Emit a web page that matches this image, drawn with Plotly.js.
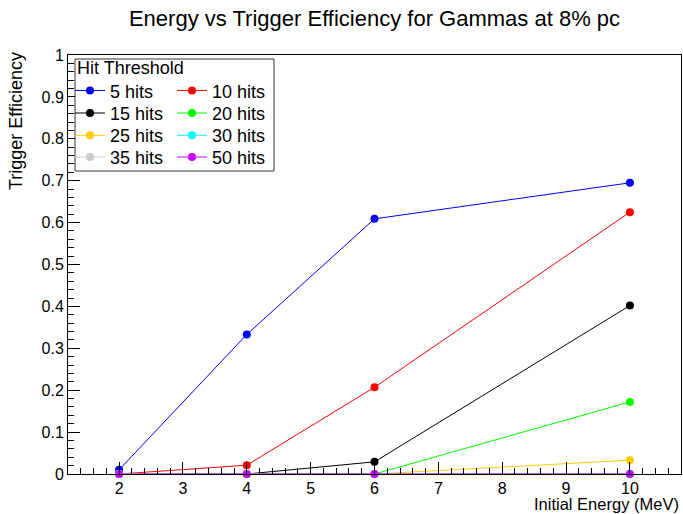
<!DOCTYPE html>
<html>
<head>
<meta charset="utf-8">
<script src="https://cdn.plot.ly/plotly-3.0.1.min.js"></script>
<style>html,body{margin:0;padding:0;background:#fff;}#chart{width:683px;height:514px;}</style>
</head>
<body>
<div id="chart"></div>
<script>
// Data
var energies = [2, 4, 6, 10];
var seriesNames = ["5 hits", "10 hits", "15 hits", "20 hits", "25 hits", "30 hits", "35 hits", "50 hits"];
var hits5  = [0.01, 0.333, 0.609, 0.695];
var hits10 = [0.0, 0.021, 0.207, 0.625];
var hits15 = [0.0, 0.0, 0.029, 0.402];
var hits20 = [0.0, 0.0, 0.0, 0.172];
var hits25 = [0.0, 0.0, 0.0, 0.033];
var hits30 = [0.0, 0.0, 0.0, 0.0];
var hits35 = [0.0, 0.0, 0.0, 0.0];
var hits50 = [0.0, 0.0, 0.0, 0.0];
var seriesValues = [hits5, hits10, hits15, hits20, hits25, hits30, hits35, hits50];
var xTickValues = [2, 3, 4, 5, 6, 7, 8, 9, 10];

var colors = ["#0000ff", "#ff0000", "#000000", "#00ff00", "#ffcc00", "#00ffff", "#cccccc", "#cc00ff"];
var legendIds = ["legend", "legend", "legend2", "legend2", "legend3", "legend3", "legend4", "legend4"];

var traces = seriesNames.map(function (name, i) {
  return {
    x: energies,
    y: seriesValues[i],
    name: name,
    type: "scatter",
    mode: "lines+markers",
    line: {color: colors[i], width: 1},
    marker: {color: colors[i], size: 8},
    legend: legendIds[i],
    cliponaxis: false
  };
});

var PL = 68, PR = 681, PT = 55, PB = 474;
function px2x(p) { return (p - PL) / (PR - PL); }
function px2y(p) { return (PB - p) / (PB - PT); }

var legendFont = {family: "Liberation Sans, Arial, sans-serif", size: 18, color: "#000"};
function mkLegend(topPx) {
  return {
    orientation: "h",
    x: px2x(70), xanchor: "left",
    y: px2y(topPx), yanchor: "top",
    bgcolor: "rgba(0,0,0,0)",
    borderwidth: 0,
    font: legendFont,
    entrywidth: 57,
    entrywidthmode: "pixels",
    itemclick: false
  };
}

var axisCommon = {
  showline: true, linecolor: "#000", linewidth: 1, mirror: true,
  showgrid: false, zeroline: false,
  ticks: "inside", ticklen: 12, tickwidth: 1, tickcolor: "#000",
  tickfont: {family: "Liberation Sans, Arial, sans-serif", size: 16, color: "#000"}
};

var layout = {
  width: 683, height: 514,
  margin: {l: PL, r: 683 - PR, t: PT, b: 514 - PB, pad: 0},
  paper_bgcolor: "#fff", plot_bgcolor: "#fff",
  font: {family: "Liberation Sans, Arial, sans-serif", color: "#000"},
  title: {
    text: "Energy vs Trigger Efficiency for Gammas at 8% pc",
    font: {size: 22, color: "#000"},
    x: 0.5, xref: "paper", xanchor: "center",
    y: 1 - 18 / 514, yref: "container", yanchor: "middle"
  },
  xaxis: Object.assign({}, axisCommon, {
    range: [1.2, 10.8],
    tickmode: "array", tickvals: xTickValues,
    minor: {dtick: 0.2, tick0: 0, ticks: "inside", ticklen: 6, tickcolor: "#000", tickwidth: 1, showgrid: false}
  }),
  yaxis: Object.assign({}, axisCommon, {
    range: [0, 1],
    dtick: 0.1, tick0: 0,
    minor: {dtick: 0.02, tick0: 0, ticks: "inside", ticklen: 6, tickcolor: "#000", tickwidth: 1, showgrid: false}
  }),
  showlegend: true,
  legend: mkLegend(72.3),
  legend2: mkLegend(94.8),
  legend3: mkLegend(117.1),
  legend4: mkLegend(138.8),
  shapes: [{
    type: "rect", xref: "paper", yref: "paper",
    x0: px2x(75), x1: px2x(274), y0: px2y(171), y1: px2y(59),
    line: {color: "#333", width: 1}, fillcolor: "#fff", layer: "above"
  }],
  annotations: [
    {text: "Hit Threshold", xref: "paper", yref: "paper", x: px2x(75), y: px2y(68),
     xanchor: "left", yanchor: "middle", showarrow: false, font: legendFont},
    {text: "Trigger Efficiency", xref: "paper", yref: "paper", x: px2x(16), y: px2y(50),
     xanchor: "center", yanchor: "top", textangle: -90, showarrow: false,
     font: {size: 18, color: "#000"}},
    {text: "Initial Energy (MeV)", xref: "paper", yref: "paper", x: px2x(680), y: px2y(514),
     xanchor: "right", yanchor: "bottom", showarrow: false, borderpad: 0,
     font: {size: 16.5, color: "#000"}}
  ]
};

Plotly.newPlot("chart", traces, layout, {staticPlot: true, displayModeBar: false});
</script>
</body>
</html>
